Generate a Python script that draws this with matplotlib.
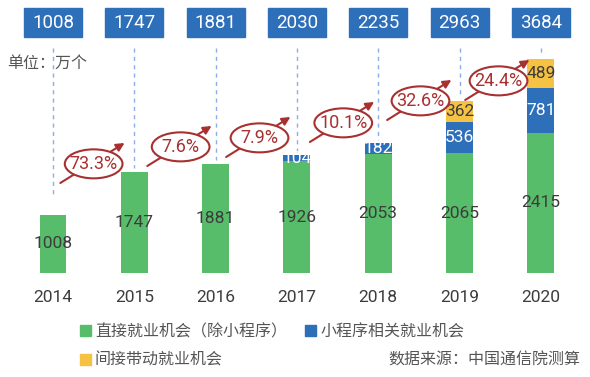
import matplotlib
matplotlib.use("Agg")
import matplotlib.pyplot as plt
from matplotlib.patches import Ellipse, Rectangle
import numpy as np

plt.rcParams['font.family'] = ['Noto Sans CJK SC', 'DejaVu Sans']
NUM = ['Roboto', 'DejaVu Sans']

years = ['2014', '2015', '2016', '2017', '2018', '2019', '2020']
direct = [1008, 1747, 1881, 1926, 2053, 2065, 2415]
mini = [0, 0, 0, 104, 182, 536, 781]
indirect = [0, 0, 0, 0, 0, 362, 489]
totals = [1008, 1747, 1881, 2030, 2235, 2963, 3684]
growth = ['73.3%', '7.6%', '7.9%', '10.1%', '32.6%', '24.4%']

# layout of the growth arrows (y of arrow tail, x offset from bar)
arrow_y = [1552, 1845, 2000, 2259, 2638, 2983]
arrow_dx = [0.09, 0.16, 0.13, 0.16, 0.11, 0.07]

green = '#57BD6A'
blue = '#2E6FBA'
yellow = '#F6C243'
red = '#A93030'
grey = '#3C3C3C'

fig = plt.figure(figsize=(5.9, 3.77), dpi=100)
ax = fig.add_axes([0, 0, 1, 1])
ax.set_xlim(-0.652, 6.605)
ax.set_ylim(-1793, 4707)
ax.axis('off')

x = np.arange(len(years))
w = 0.33
d = np.array(direct)
m = np.array(mini)
ind = np.array(indirect)
ax.bar(x, d, w, color=green, zorder=2)
ax.bar(x, m, w, bottom=d, color=blue, zorder=2)
ax.bar(x, ind, w, bottom=d + m, color=yellow, zorder=2)

for i in range(len(years)):
    ax.text(x[i], d[i] / 2, str(direct[i]), ha='center', va='center', family=NUM,
            fontsize=12.5, color=grey, zorder=3)
    if mini[i]:
        ax.text(x[i], d[i] + m[i] / 2, str(mini[i]), ha='center', va='center',
                family=NUM, fontsize=12.5, color='white', zorder=3)
    if indirect[i]:
        ax.text(x[i], d[i] + m[i] + ind[i] / 2, str(indirect[i]), ha='center',
                va='center', family=NUM, fontsize=12.5, color=grey, zorder=3)
    ax.text(x[i], -414, years[i], ha='center', va='center', fontsize=12.5,
            family=NUM, color=grey)
    # top total boxes
    ax.add_patch(Rectangle((x[i] - 0.356, 4069), 0.713, 500, color=blue, zorder=3))
    ax.text(x[i], 4319, str(totals[i]), ha='center', va='center', fontsize=13.5,
            family=NUM, color='white', zorder=4)
    # dashed guide
    top = 1300 if i == 0 else totals[i] + 60
    ax.plot([x[i], x[i]], [3879, top], color='#8EAEE6', lw=1,
            dashes=(3, 3), zorder=1)

for i, g in enumerate(growth):
    x0 = x[i] + arrow_dx[i]
    y0 = arrow_y[i]
    ax.annotate('', xy=(x0 + 0.79, y0 + 690), xytext=(x0, y0),
                arrowprops=dict(arrowstyle='-|>', color=red, lw=1.5,
                                mutation_scale=12, shrinkA=0, shrinkB=0),
                zorder=5)
    cx, cy = x0 + 0.41, y0 + 330
    ax.add_patch(Ellipse((cx, cy), 0.71, 500, facecolor='white', edgecolor=red,
                         lw=1.5, zorder=6))
    ax.text(cx, cy, g, ha='center', va='center', fontsize=13, color=red,
            family=NUM, zorder=7)

ax.text(-0.566, 3621, '单位：万个', ha='left', va='center', fontsize=11.5,
        color='#555555')

handles = [Rectangle((0, 0), 1, 1, color=green),
           Rectangle((0, 0), 1, 1, color=yellow),
           Rectangle((0, 0), 1, 1, color=blue)]
labels = ['直接就业机会（除小程序）', '间接带动就业机会', '小程序相关就业机会']
fig.legend(handles, labels, ncol=2, loc='upper left', bbox_to_anchor=(0.135, 0.142),
           frameon=False, handlelength=0.7, handleheight=0.7,
           handletextpad=0.25, columnspacing=1.15, labelspacing=0.72,
           labelcolor='#555555', borderaxespad=0, borderpad=0,
           prop={'size': 11.5})

ax.text(6.49, -1500, '数据来源：中国通信院测算', ha='right', va='center',
        fontsize=11.5, color='#555555')

fig.savefig('out.png', dpi=100)
